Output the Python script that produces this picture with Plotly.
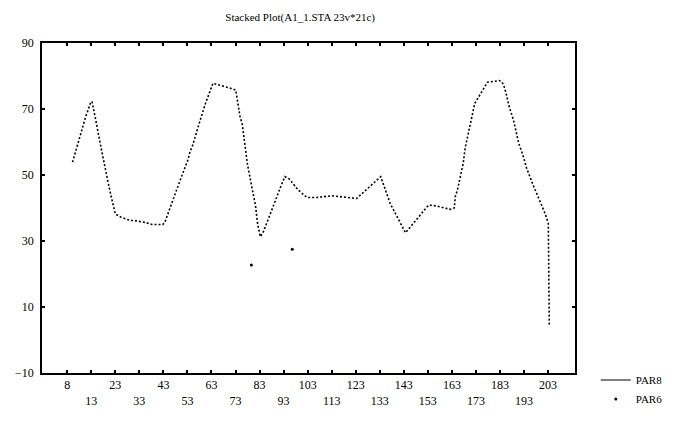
import plotly.graph_objects as go

# ---- data ----
par8_x = [5.2, 6.0, 6.9, 10.0, 10.9, 11.7, 12.6, 13.3, 14.1, 14.9, 17.3, 18.1, 19.6, 20.5,
          21.3, 22.1, 23.0, 25.2, 29.2, 30.9, 35.6, 38.2, 41.1, 42.8, 43.7, 44.4, 45.4, 46.1,
          46.9, 47.8, 48.6, 49.4, 51.0, 52.5, 53.3, 54.1, 55.0, 58.0, 58.8, 59.7, 60.5, 63.6,
          65.9, 67.7, 70.9, 73.1, 74.1, 74.9, 75.8, 77.9, 79.6, 80.3, 81.3, 82.1, 83.3, 84.6,
          86.8, 88.5, 90.2, 91.8, 93.5, 95.2, 96.6, 99.0, 102.7, 106.8, 113.0, 119.3, 123.4,
          133.4, 137.3, 143.7, 153.3, 156.7, 158.8, 162.3, 164.0, 164.4, 165.3, 167.7, 168.5,
          170.2, 171.7, 172.5, 177.8, 182.8, 183.7, 184.6, 185.4, 186.9, 188.6, 189.4, 190.8,
          192.5, 194.1, 196.6, 198.3, 200.0, 201.7, 203.1, 203.5]
par8_y = [53.9, 56.0, 58.3, 66.5, 68.2, 69.7, 71.7, 72.3, 68.7, 66.5, 57.4, 54.8, 49.5, 46.0,
          43.4, 40.4, 38.2, 37.3, 36.2, 36.2, 35.6, 35.0, 35.0, 35.0, 35.9, 37.4, 38.9, 40.6,
          42.2, 44.2, 45.7, 47.3, 50.5, 53.5, 54.8, 57.2, 58.6, 65.9, 67.9, 69.9, 71.7, 77.8,
          77.4, 76.9, 76.3, 75.7, 71.1, 67.6, 65.4, 53.5, 47.0, 43.9, 40.8, 35.6, 31.3, 32.8,
          37.2, 40.6, 43.4, 46.5, 49.5, 48.9, 47.7, 45.5, 43.2, 43.2, 43.7, 43.2, 42.9,
          49.5, 41.4, 32.5, 40.9, 40.6, 40.2, 39.6, 40.0, 43.5, 45.5, 53.5, 58.1,
          63.6, 69.2, 71.7, 78.1, 78.6, 78.3, 77.1, 75.1, 70.5, 66.7, 64.2, 59.6,
          56.1, 52.0, 47.3, 44.5, 41.4, 38.4, 35.4, 4.5]

par6_x = [79.6, 96.6]
par6_y = [22.7, 27.5]

tick_vals = [3, 13, 23, 33, 43, 53, 63, 73, 83, 93, 103, 113, 123, 133, 143, 153, 163, 173, 183, 193, 203]
tick_text = ["8", "13", "23", "33", "43", "53", "63", "73", "83", "93", "103", "113", "123",
             "133", "143", "153", "163", "173", "183", "193", "203"]
y_ticks = [-10, 10, 30, 50, 70, 90]

title_text = "Stacked Plot(A1_1.STA 23v*21c)"

# alternate tick labels on two rows
tick_text_rows = [t if i % 2 == 0 else "<br>" + t for i, t in enumerate(tick_text)]

FONT = "Liberation Serif"

fig = go.Figure()
fig.add_trace(go.Scatter(x=par8_x, y=par8_y, mode="lines", showlegend=False,
                         line=dict(color="black", width=1.6, dash="2px,2px")))
fig.add_trace(go.Scatter(x=par6_x, y=par6_y, mode="markers", showlegend=False,
                         marker=dict(color="black", size=3)))
# legend entries
fig.add_trace(go.Scatter(x=[None], y=[None], mode="lines", name="PAR8",
                         line=dict(color="black", width=1.2)))
fig.add_trace(go.Scatter(x=[None], y=[None], mode="markers", name="PAR6",
                         marker=dict(color="black", size=3)))

axis_common = dict(showgrid=False, zeroline=False, showline=True, linecolor="black",
                   linewidth=1.5, mirror="ticks", ticks="inside", ticklen=3,
                   tickcolor="black", tickwidth=1.5,
                   tickfont=dict(family=FONT, size=12, color="black"))

fig.update_layout(
    width=673, height=423,
    margin=dict(l=42, r=98, t=43, b=50, autoexpand=False),
    paper_bgcolor="white", plot_bgcolor="white",
    title=dict(text=title_text, x=0.446, xref="container", xanchor="center",
               y=1 - 17 / 423, yref="container", yanchor="middle",
               font=dict(family=FONT, size=11, color="black")),
    xaxis=dict(range=[-7.5, 214.2], tickmode="array", tickvals=tick_vals,
               ticktext=tick_text_rows, tickangle=0, **axis_common),
    yaxis=dict(range=[-10, 90], tickmode="array", tickvals=y_ticks,
               ticklabelstandoff=4, **axis_common),
    legend=dict(x=1.039, y=-0.05, xanchor="left", yanchor="middle",
                font=dict(family=FONT, size=11, color="black"),
                bgcolor="rgba(0,0,0,0)", itemwidth=30, tracegroupgap=0),
)

fig.write_html("out.html")
